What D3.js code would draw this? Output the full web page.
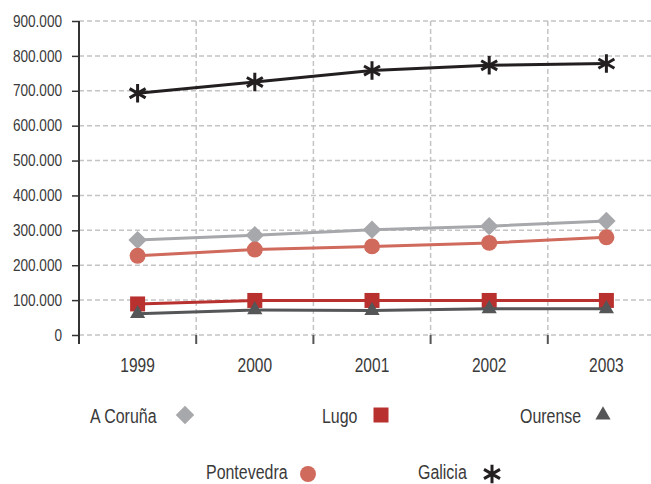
<!DOCTYPE html>
<html>
<head>
<meta charset="utf-8">
<script src="https://cdn.jsdelivr.net/npm/d3@7"></script>
<style>
  body { margin: 0; background: #fff; }
  svg { display: block; }
  text { font-family: "Liberation Sans", Arial, sans-serif; fill: #3a3a3a; }
</style>
</head>
<body>
<div id="chart"></div>
<script>
var years = ['1999', '2000', '2001', '2002', '2003'];
var yTicks = [0, 100000, 200000, 300000, 400000, 500000, 600000, 700000, 800000, 900000];

var coruna = [272000, 286000, 302000, 312000, 327000];
var lugo = [89000, 99000, 99000, 99000, 99000];
var ourense = [61000, 72000, 70000, 75000, 75000];
var pontevedra = [227000, 245000, 254000, 264000, 280000];
var galicia = [693000, 725000, 758000, 773000, 778000];

var seriesNames = ['A Coruña', 'Lugo', 'Ourense', 'Pontevedra', 'Galicia'];
var seriesValues = [coruna, lugo, ourense, pontevedra, galicia];

// styling per series
var seriesColor = ['#a7a8ab', '#b8312f', '#555658', '#cf6a5c', '#231f20'];
var seriesSymbol = [d3.symbolSquare, d3.symbolSquare, d3.symbolTriangle, d3.symbolCircle, d3.symbolAsterisk];
var seriesSize = [170, 225, 100, 200, 240];
var seriesRotate = [45, 0, 0, 0, 0];

// legend layout (text left x, marker x, row y)
var legendText = [90, 322, 520, 206, 418];
var legendMark = [185, 381, 603, 308, 492];
var legendRow = [415, 415, 415, 474, 474];

var width = 651, height = 484;
var plotLeft = 79, plotTop = 21, plotBottom = 335;
var bandW = 117.2;

// the reference uses a condensed face; squeeze a normal one horizontally
function squeeze(sel, sx) {
  sel.each(function () {
    var t = d3.select(this);
    var x0 = +t.attr('x') || 0;
    t.attr('x', x0 / sx).attr('transform', 'scale(' + sx + ',1)');
  });
}

var fmt = d3.formatLocale({decimal: ',', thousands: '.', grouping: [3], currency: ['', '€']}).format(',d');

var svg = d3.select('#chart').append('svg')
  .attr('width', width)
  .attr('height', height);

var x = d3.scaleBand().domain(years).range([plotLeft, plotLeft + bandW * years.length]);
var y = d3.scaleLinear().domain([0, 900000]).range([plotBottom, plotTop]);

// grid
svg.append('g').selectAll('line')
  .data(yTicks)
  .enter().append('line')
  .attr('x1', plotLeft).attr('x2', plotLeft + bandW * years.length)
  .attr('y1', function (d) { return y(d); })
  .attr('y2', function (d) { return y(d); })
  .attr('stroke', '#c4c4c4')
  .attr('stroke-width', 1.5)
  .attr('stroke-dasharray', '5,3');

svg.append('g').selectAll('line')
  .data(years)
  .enter().append('line')
  .attr('x1', function (d) { return x(d) + bandW; })
  .attr('x2', function (d) { return x(d) + bandW; })
  .attr('y1', plotTop).attr('y2', plotBottom)
  .attr('stroke', '#c4c4c4')
  .attr('stroke-width', 1.5)
  .attr('stroke-dasharray', '5,3');

// y axis
var yAxis = svg.append('g')
  .attr('transform', 'translate(' + plotLeft + ',0)')
  .call(d3.axisLeft(y).tickValues(yTicks).tickFormat(function (d) { return d === 0 ? '0' : fmt(d); }).tickSize(7).tickPadding(10));
yAxis.select('.domain').remove();
yAxis.selectAll('line').attr('stroke', '#333').attr('stroke-width', 1.5);
yAxis.selectAll('text').style('font-size', '16px').attr('fill', '#3a3a3a').call(squeeze, 0.85);
svg.append('line')
  .attr('x1', plotLeft).attr('x2', plotLeft)
  .attr('y1', plotTop).attr('y2', plotBottom + 9)
  .attr('stroke', '#333').attr('stroke-width', 2);

// x axis ticks at band edges
svg.append('g').selectAll('line')
  .data(years.slice(1))
  .enter().append('line')
  .attr('x1', function (d) { return x(d); })
  .attr('x2', function (d) { return x(d); })
  .attr('y1', plotBottom).attr('y2', plotBottom + 9)
  .attr('stroke', '#555').attr('stroke-width', 2);

svg.append('g').selectAll('text')
  .data(years)
  .enter().append('text')
  .attr('x', function (d) { return x(d) + x.bandwidth() / 2; })
  .attr('y', 372)
  .attr('text-anchor', 'middle')
  .style('font-size', '21px')
  .text(function (d) { return d; })
  .call(squeeze, 0.74);

// series
var line = d3.line()
  .x(function (d, i) { return x(years[i]) + x.bandwidth() / 2; })
  .y(function (d) { return y(d); });

function marker(sel, i) {
  var isStar = seriesSymbol[i] === d3.symbolAsterisk;
  sel.attr('d', d3.symbol().type(seriesSymbol[i]).size(seriesSize[i]))
    .attr('fill', isStar ? 'none' : seriesColor[i])
    .attr('stroke', isStar ? seriesColor[i] : 'none')
    .attr('stroke-width', isStar ? 3 : 0);
}

seriesValues.forEach(function (vals, i) {
  var g = svg.append('g');
  g.append('path')
    .datum(vals)
    .attr('d', line)
    .attr('fill', 'none')
    .attr('stroke', seriesColor[i])
    .attr('stroke-width', 3);
  g.selectAll('path.m')
    .data(vals)
    .enter().append('path')
    .attr('class', 'm')
    .attr('transform', function (d, j) {
      return 'translate(' + (x(years[j]) + x.bandwidth() / 2) + ',' + y(d) + ') rotate(' + seriesRotate[i] + ')';
    })
    .call(marker, i);
});

// legend
seriesNames.forEach(function (name, i) {
  var g = svg.append('g');
  g.append('text')
    .attr('x', legendText[i])
    .attr('y', Math.min(legendRow[i] + 8, 479))
    .style('font-size', '21px')
    .text(name)
    .call(squeeze, 0.76);
  g.append('path')
    .attr('transform', 'translate(' + legendMark[i] + ',' + legendRow[i] + ') rotate(' + seriesRotate[i] + ')')
    .call(marker, i);
});
</script>
</body>
</html>
